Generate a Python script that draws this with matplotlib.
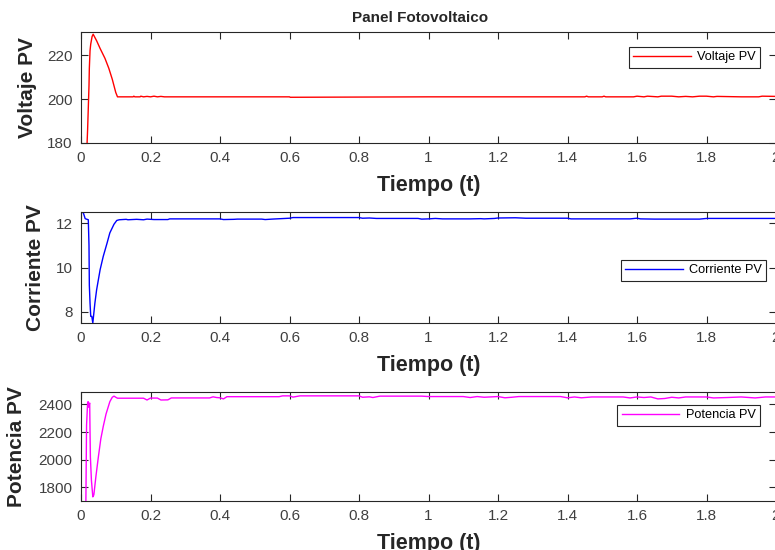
import matplotlib
matplotlib.use("Agg")
import matplotlib.pyplot as plt

plt.rcParams['font.family'] = ['Liberation Sans', 'DejaVu Sans']

# ---------------- data ----------------
t_volt = [0.0, 0.012, 0.017, 0.019, 0.021, 0.023, 0.024, 0.026, 0.028, 0.032, 0.035,
          0.045, 0.055, 0.069, 0.08, 0.09, 0.100, 0.105, 0.11, 0.15, 0.152, 0.155,
          0.17, 0.172, 0.18, 0.19, 0.20, 0.21, 0.22, 0.23, 0.24, 0.25, 0.6, 0.602,
          1.0, 1.45, 1.455, 1.46, 1.5, 1.505, 1.51, 1.59, 1.6, 1.62, 1.63, 1.66,
          1.67, 1.7, 1.72, 1.74, 1.76, 1.78, 1.8, 1.82, 1.83, 1.9, 1.95, 1.96, 2.0]
v_volt = [0.0, 60.0, 178.0, 186.0, 196.0, 206.0, 214.0, 222.0, 225.0, 228.5, 229.5,
          226.5, 223.0, 218.5, 214.0, 209.0, 203.0, 201.0, 201.0, 201.0, 201.3, 201.0,
          201.0, 201.3, 201.0, 201.2, 201.0, 201.3, 201.0, 201.2, 201.0, 201.0, 201.0, 200.8,
          201.0, 201.0, 201.3, 201.0, 201.0, 201.3, 201.0, 201.0, 201.3, 201.0, 201.3, 201.0,
          201.3, 201.3, 201.0, 201.2, 201.0, 201.3, 201.3, 201.0, 201.2, 201.0, 201.0, 201.3, 201.2]

t_curr = [0.0, 0.0005, 0.003, 0.007, 0.012, 0.021, 0.023, 0.024, 0.026, 0.028, 0.031, 0.034,
          0.040, 0.045, 0.055, 0.064, 0.075, 0.083, 0.095, 0.103, 0.11, 0.13, 0.135,
          0.16, 0.18, 0.19, 0.21, 0.25, 0.255, 0.40, 0.41, 0.44, 0.45, 0.52, 0.53,
          0.55, 0.60, 0.61, 0.80, 0.81, 0.83, 0.85, 0.97, 0.98, 1.0, 1.02, 1.04, 1.12,
          1.15, 1.16, 1.19, 1.20, 1.25, 1.28, 1.40, 1.41, 1.58, 1.60, 1.61, 1.65, 1.78,
          1.80, 2.0]
i_curr = [6.0, 12.5, 12.5, 12.45, 12.2, 12.15, 11.0, 9.2, 8.4, 7.8, 7.8, 7.5,
          8.4, 9.0, 9.9, 10.5, 11.1, 11.56, 11.95, 12.12, 12.15, 12.17, 12.15,
          12.17, 12.15, 12.18, 12.16, 12.16, 12.19, 12.19, 12.16, 12.17, 12.18, 12.18, 12.16,
          12.18, 12.22, 12.25, 12.25, 12.22, 12.23, 12.21, 12.21, 12.18, 12.19, 12.21, 12.19, 12.19,
          12.2, 12.19, 12.21, 12.23, 12.24, 12.22, 12.22, 12.19, 12.19, 12.22, 12.19, 12.18, 12.18,
          12.21, 12.21]

t_pot = [0.0, 0.010, 0.0137, 0.016, 0.019, 0.0205, 0.022, 0.023, 0.025, 0.026, 0.027, 0.030,
         0.034, 0.037, 0.043, 0.050, 0.057, 0.064, 0.072, 0.083, 0.090, 0.095, 0.100,
         0.105, 0.18, 0.19, 0.20, 0.22, 0.23, 0.25, 0.26, 0.37, 0.38, 0.39, 0.40, 0.41,
         0.42, 0.57, 0.58, 0.60, 0.61, 0.63, 0.80, 0.81, 0.83, 0.84, 0.86, 0.98, 1.0,
         1.10, 1.12, 1.14, 1.16, 1.2, 1.22, 1.24, 1.26, 1.28, 1.38, 1.4, 1.42, 1.44, 1.47,
         1.5, 1.56, 1.58, 1.6, 1.62, 1.64, 1.66, 1.68, 1.7, 1.72, 1.74, 1.8, 1.82, 1.86,
         1.9, 1.94, 1.97, 2.0]
p_pot = [0.0, 900.0, 1600.0, 2250.0, 2410.0, 2420.0, 2380.0, 2390.0, 2410.0, 2200.0, 2020.0, 1850.0,
         1730.0, 1745.0, 1880.0, 2020.0, 2150.0, 2240.0, 2330.0, 2420.0, 2452.0, 2460.0, 2452.0,
         2445.0, 2445.0, 2432.0, 2446.0, 2446.0, 2432.0, 2433.0, 2447.0, 2447.0, 2455.0, 2450.0, 2448.0, 2440.0,
         2456.0, 2456.0, 2462.0, 2462.0, 2453.0, 2462.0, 2462.0, 2452.0, 2455.0, 2450.0, 2460.0, 2460.0, 2457.0,
         2457.0, 2450.0, 2457.0, 2452.0, 2457.0, 2448.0, 2452.0, 2457.0, 2457.0, 2457.0, 2448.0, 2454.0, 2448.0, 2454.0,
         2454.0, 2454.0, 2447.0, 2454.0, 2450.0, 2454.0, 2440.0, 2443.0, 2452.0, 2447.0, 2454.0, 2454.0, 2447.0, 2450.0,
         2454.0, 2447.0, 2454.0, 2454.0]

x_ticks = [0, 0.2, 0.4, 0.6, 0.8, 1.0, 1.2, 1.4, 1.6, 1.8, 2.0]
x_ticklabels = ['0', '0.2', '0.4', '0.6', '0.8', '1', '1.2', '1.4', '1.6', '1.8', '2']
v_ticks = [180, 200, 220]
i_ticks = [8, 10, 12]
p_ticks = [1800, 2000, 2200, 2400]

# ---------------- figure ----------------
W, H = 775, 550
fig = plt.figure(figsize=(W / 100, H / 100), dpi=100)

def ax_rect(left, right, top, bottom):
    return [left / W, 1 - bottom / H, (right - left) / W, (bottom - top) / H]

ax1 = fig.add_axes(ax_rect(81, 776, 32, 143))
ax2 = fig.add_axes(ax_rect(81, 776, 212, 323))
ax3 = fig.add_axes(ax_rect(81, 776, 392, 501))

spine_col = '#262626'
tick_col = '#404040'

panels = [
    (ax1, t_volt, v_volt, '#ff0000', 'Voltaje PV', (180, 230.5), v_ticks, (0.977, 0.865), -0.064),
    (ax2, t_curr, i_curr, '#0000ff', 'Corriente PV', (7.5, 12.5), i_ticks, (0.986, 0.568), -0.052),
    (ax3, t_pot, p_pot, '#ff00ff', 'Potencia PV', (1700, 2490), p_ticks, (0.977, 0.881), -0.079),
]

for ax, tx, yv, col, lab, ylim, yt, legpos, ylab_x in panels:
    ax.plot(tx, yv, color=col, lw=1.0, label=lab)
    ax.set_xlim(0, 2)
    ax.set_ylim(*ylim)
    ax.set_xticks(x_ticks)
    ax.set_xticklabels(x_ticklabels)
    ax.set_yticks(yt)
    ax.tick_params(direction='in', top=True, right=True, length=5, width=0.8,
                   colors=spine_col, labelcolor=tick_col, labelsize=11, pad=6)
    for s in ax.spines.values():
        s.set_color(spine_col)
        s.set_linewidth(0.8)
    ax.set_xlabel('Tiempo (t)', fontsize=15.5, fontweight='bold', color='#262626')
    ax.xaxis.set_label_coords(0.5, -0.29)
    ax.set_ylabel(lab, fontsize=15, fontweight='bold', color='#262626')
    ax.yaxis.set_label_coords(ylab_x, 0.5)
    leg = ax.legend(loc='upper right', bbox_to_anchor=legpos, fontsize=9.2,
                    frameon=True, fancybox=False, framealpha=1, edgecolor='#262626',
                    handlelength=4.5, borderpad=0.35, handletextpad=0.5, borderaxespad=0)
    leg.get_frame().set_linewidth(0.8)

ax1.set_title('Panel Fotovoltaico', fontsize=11, fontweight='bold', color='#262626',
              pad=7, x=0.488)

fig.savefig('out.png', dpi=100)
